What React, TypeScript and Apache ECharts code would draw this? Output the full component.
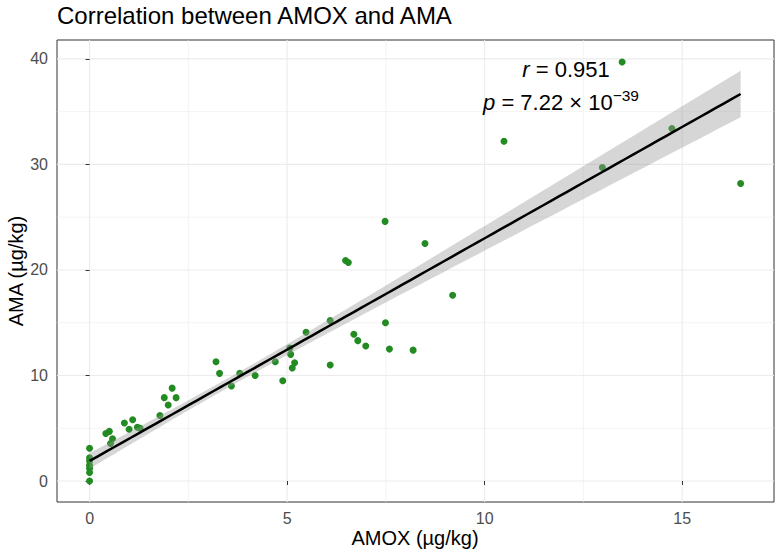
import React, { useEffect, useRef } from "react";
import * as echarts from "echarts";

const amox = [0, 0, 0, 0, 0, 0, 0, 0.41, 0.5, 0.58, 0.53, 0.88, 1.09, 1.0, 1.21, 1.28, 1.78, 1.89, 2.09, 2.19, 1.99, 3.2, 3.29, 3.59, 3.8, 4.19, 4.7, 4.89, 5.07, 5.09, 5.19, 5.13, 5.48, 6.09, 6.09, 7.48, 8.49, 6.48, 6.55, 9.19, 7.49, 6.69, 6.79, 6.99, 7.59, 8.19, 13.48, 10.49, 14.74, 12.98, 16.48];
const ama = [0, 0.8, 1.2, 1.5, 1.9, 2.2, 3.1, 4.5, 4.7, 4.0, 3.55, 5.5, 5.8, 4.9, 5.1, 5.0, 6.2, 7.9, 8.8, 7.9, 7.2, 11.3, 10.2, 9.0, 10.2, 10.0, 11.3, 9.5, 12.6, 12.0, 11.2, 10.7, 14.1, 15.2, 11.0, 24.6, 22.5, 20.9, 20.7, 17.6, 15.0, 13.9, 13.3, 12.8, 12.5, 12.4, 39.7, 32.2, 33.4, 29.7, 28.2];

const xTicks = [0, 5, 10, 15];
const xMinor = [2.5, 7.5, 12.5];
const yTicks = [0, 10, 20, 30, 40];
const yMinor = [5, 15, 25, 35];

// fitted line and confidence band
const fitIntercept = 1.9;
const fitSlope = 2.11;
const ciCentre = 3.5;
const ciMinHalf = 0.45;
const ciGrowth = 0.166;

const FONT = "Liberation Sans, Arial, Helvetica, sans-serif";

function band() {
  const x0 = Math.min(...amox), x1 = Math.max(...amox);
  const line: number[][] = [], lo: number[][] = [], hi: number[][] = [];
  const steps = 80;
  for (let k = 0; k < steps; k++) {
    const x = x0 + ((x1 - x0) * k) / (steps - 1);
    const y = fitIntercept + fitSlope * x;
    const hw = Math.sqrt(ciMinHalf ** 2 + (ciGrowth * (x - ciCentre)) ** 2);
    line.push([x, y]);
    lo.push([x, y - hw]);
    hi.push([x, y + hw]);
  }
  return { line, lo, hi };
}

export default function App() {
  const ref = useRef<HTMLDivElement>(null);
  useEffect(() => {
    if (!ref.current) return;
    const chart = echarts.init(ref.current, undefined, { renderer: "svg" });
    const { line, lo, hi } = band();
    const X0 = -0.825, X1 = 17.325, Y0 = -1.99, Y1 = 41.79;
    const gridSeries = (vals: number[], dir: "x" | "y", width: number) => ({
      type: "custom",
      z: 0,
      silent: true,
      data: vals.map((v) => [v]),
      encode: { x: dir === "x" ? 0 : -1, y: dir === "y" ? 0 : -1 },
      renderItem: (params: any, api: any) => {
        const v = api.value(0);
        const p1 = dir === "x" ? api.coord([v, Y0]) : api.coord([X0, v]);
        const p2 = dir === "x" ? api.coord([v, Y1]) : api.coord([X1, v]);
        return {
          type: "line",
          shape: { x1: p1[0], y1: p1[1], x2: p2[0], y2: p2[1] },
          style: { stroke: "#EBEBEB", lineWidth: width },
        };
      },
    });
    chart.setOption({
      animation: false,
      textStyle: { fontFamily: FONT },
      grid: { left: 57, right: 6, top: 40, bottom: 54, show: true, borderColor: "#333333", borderWidth: 1, backgroundColor: "transparent" },
      xAxis: {
        type: "value",
        min: X0,
        max: X1,
        axisLine: { show: false },
        splitLine: { show: false },
        axisTick: { show: true, customValues: xTicks, length: 4, lineStyle: { color: "#333333", width: 1 } },
        axisLabel: { customValues: xTicks, fontSize: 16, color: "#4D4D4D", margin: 8, fontFamily: FONT },
      },
      yAxis: {
        type: "value",
        min: Y0,
        max: Y1,
        axisLine: { show: false },
        splitLine: { show: false },
        axisTick: { show: true, customValues: yTicks, length: 4, lineStyle: { color: "#333333", width: 1 } },
        axisLabel: { customValues: yTicks, fontSize: 16, color: "#4D4D4D", margin: 9, fontFamily: FONT },
      },
      series: [
        gridSeries(xMinor, "x", 0.6),
        gridSeries(yMinor, "y", 0.6),
        gridSeries(xTicks, "x", 1.1),
        gridSeries(yTicks, "y", 1.1),
        {
          type: "scatter",
          z: 2,
          data: amox.map((x, i) => [x, ama[i]]),
          symbolSize: 7,
          itemStyle: { color: "#228B22", opacity: 1 },
        },
        {
          type: "custom",
          z: 3,
          silent: true,
          data: [[0, 0]],
          renderItem: (params: any, api: any) => {
            const pts = hi.map((p) => api.coord(p)).concat(lo.slice().reverse().map((p) => api.coord(p)));
            return {
              type: "polygon",
              shape: { points: pts },
              style: { fill: "rgba(153,153,153,0.4)", stroke: "none" },
            };
          },
        },
        {
          type: "line",
          z: 4,
          data: line,
          showSymbol: false,
          lineStyle: { color: "#000000", width: 2.5 },
        },
      ],
      graphic: [
        { type: "text", z: 100, x: 57, y: 15.5, style: { text: "Correlation between AMOX and AMA", fontSize: 24, fill: "#000", fontFamily: FONT, verticalAlign: "middle" } },
        { type: "text", z: 100, x: 415, y: 538, style: { text: "AMOX (µg/kg)", fontSize: 20, fill: "#000", fontFamily: FONT, align: "center", verticalAlign: "middle" } },
        { type: "text", z: 100, x: 16, y: 271, rotation: Math.PI / 2, style: { text: "AMA (µg/kg)", fontSize: 20, fill: "#000", fontFamily: FONT, align: "center", verticalAlign: "middle" } },
        {
          type: "text", z: 100, x: 566, y: 69,
          style: {
            text: "{i|r} = 0.951", fontSize: 22, fill: "#000", fontFamily: FONT, align: "center", verticalAlign: "middle",
            rich: { i: { fontStyle: "italic", fontSize: 22, fontFamily: FONT } },
          },
        },
        {
          type: "text", z: 100, x: 561, y: 102,
          style: {
            text: "{i|p} = 7.22 × 10{s|−39}", fontSize: 22, fill: "#000", fontFamily: FONT, align: "center", verticalAlign: "middle",
            rich: {
              i: { fontStyle: "italic", fontSize: 22, fontFamily: FONT },
              s: { fontSize: 15.5, fontFamily: FONT, verticalAlign: "top", lineHeight: 30 },
            },
          },
        },
      ],
    });
    return () => chart.dispose();
  }, []);
  return <div ref={ref} style={{ position: "absolute", left: 0, top: 0, width: 780, height: 556 }} />;
}
